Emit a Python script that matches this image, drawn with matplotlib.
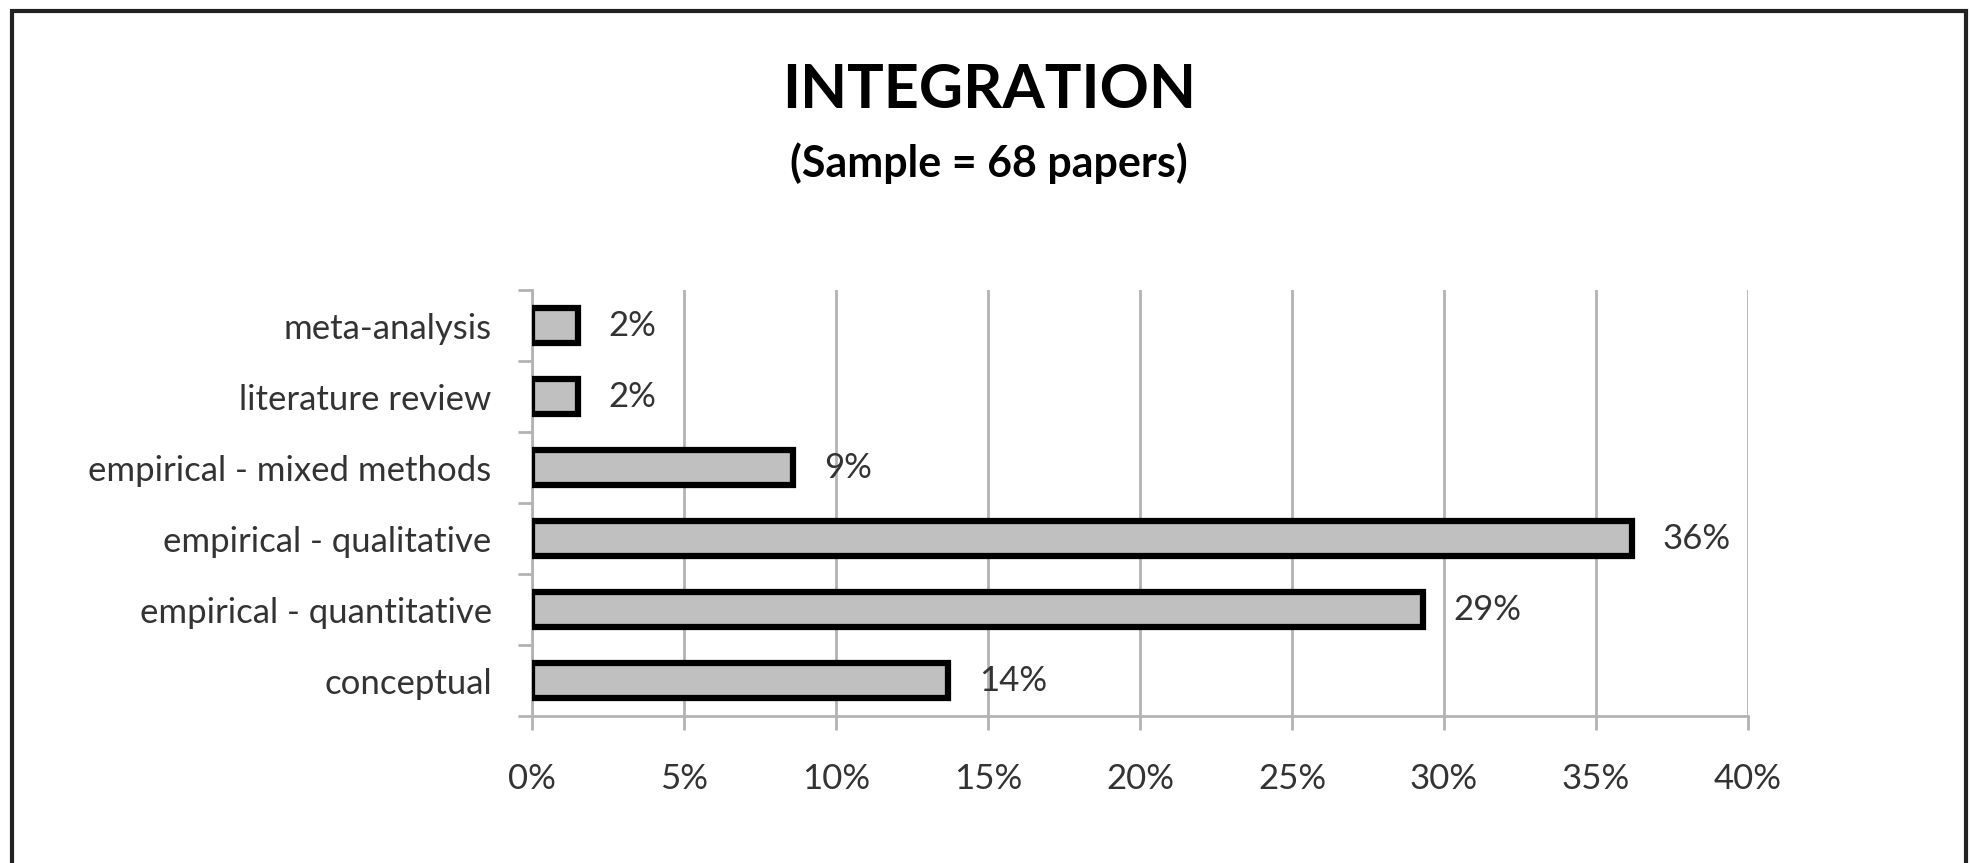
import matplotlib
matplotlib.use("Agg")
import matplotlib.pyplot as plt
from matplotlib.patches import Rectangle
from matplotlib.ticker import FuncFormatter

# === DATA ===
categories = ["conceptual", "empirical - quantitative", "empirical - qualitative",
              "empirical - mixed methods", "literature review", "meta-analysis"]
values = [13.7, 29.3, 36.2, 8.6, 1.5, 1.5]
value_labels = ["14%", "29%", "36%", "9%", "2%", "2%"]
x_ticks = [0, 5, 10, 15, 20, 25, 30, 35, 40]

plt.rcParams['font.family'] = ['Lato', 'DejaVu Sans']
W, H = 1970, 863
fig = plt.figure(figsize=(W / 100, H / 100), dpi=100)

# axes box in pixel coords: x 532..1748, y 290..716
ax = fig.add_axes([532 / W, 1 - 716 / H, (1748 - 532) / W, (716 - 290) / H])

grid_c = "#b3b3b3"
txt_c = "#333333"
fs = 25

ax.barh(range(len(categories)), values, height=0.48, color="#c0c0c0",
        edgecolor="black", linewidth=4.5, zorder=3)
for i, (v, lab) in enumerate(zip(values, value_labels)):
    ax.text(v + 1.0, i, lab, va="center", ha="left", fontsize=fs, color=txt_c)

ax.set_xlim(0, 40)
ax.set_ylim(-0.5, len(categories) - 0.5)
ax.set_xticks(x_ticks)
ax.xaxis.set_major_formatter(FuncFormatter(lambda x, p: f"{int(x)}%"))
ax.set_yticks(range(len(categories)))
ax.set_yticklabels(categories)
ax.set_yticks([i - 0.5 for i in range(len(categories) + 1)], minor=True)
ax.tick_params(axis="y", which="major", length=0, pad=29, labelsize=fs, labelcolor=txt_c)
ax.tick_params(axis="y", which="minor", length=10, width=2, color=grid_c)
ax.tick_params(axis="x", length=10, width=2, color=grid_c, pad=24, labelsize=fs, labelcolor=txt_c)
ax.grid(axis="x", color=grid_c, linewidth=2, zorder=0)
for s in ["top", "right"]:
    ax.spines[s].set_visible(False)
for s in ["left", "bottom"]:
    ax.spines[s].set_color(grid_c)
    ax.spines[s].set_linewidth(2)

fig.text(989 / W, 1 - 90 / H, "INTEGRATION", ha="center", va="center",
         fontsize=44, fontweight="bold", color="black")
fig.text(989 / W, 1 - 163 / H, "(Sample = 68 papers)", ha="center", va="center",
         fontsize=31, fontweight="bold", color="black")

# outer frame (bottom edge is cut off in the original)
fig.patches.append(Rectangle((12 / W, -0.05), (1966 - 12) / W, 1.05 - 11 / H,
                             transform=fig.transFigure, fill=False,
                             edgecolor="#222222", linewidth=3))

fig.savefig("out.png", dpi=100)
